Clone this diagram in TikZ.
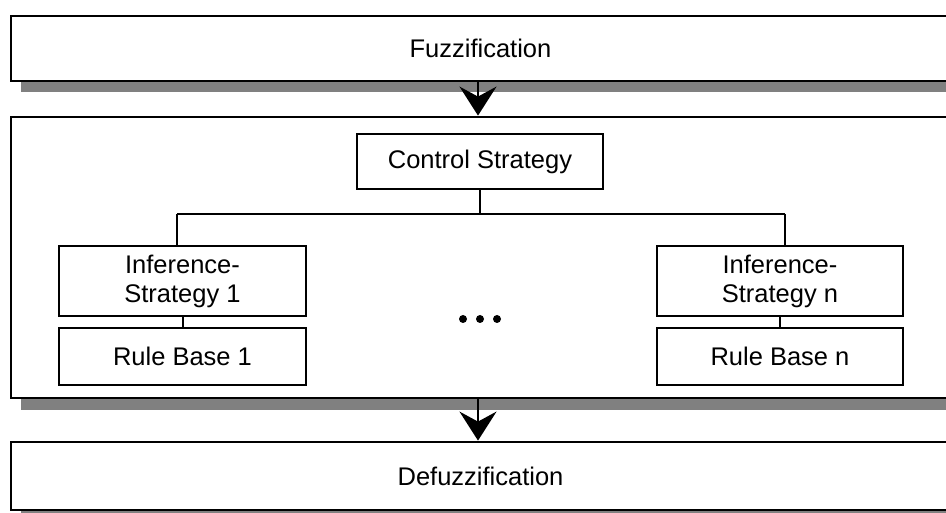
\documentclass[tikz,border=0pt]{standalone}
\usepackage{fontspec}
\setmainfont{Liberation Sans}
\usetikzlibrary{arrows.meta}
\tikzset{
  stage/.style = {draw, line width = 2.8pt, fill = white, inner sep = 0pt, minimum width = 939pt},
  part/.style = {draw, line width = 2.4pt, fill = white, inner sep = 0pt, align = center},
  shade/.style = {fill = black!50},
  link/.style = {line width = 2pt},
  flow/.style = {line width = 2pt, -{Stealth[length = 29pt, width = 37pt, inset = 10pt]}}
}
\begin{document}
\begin{tikzpicture}[x = 1pt, y = -1pt, font = \fontsize{25.5}{29}\selectfont]
\useasboundingbox (0,0) rectangle (946,513);
% shadows
\fill[shade] (21,81) rectangle (960,92);
\fill[shade] (21,399) rectangle (960,410);
\fill[shade] (21,511) rectangle (960,522);
% main stages
\node[stage, minimum height = 65pt] (fuzz) at (480.5,48.5) {Fuzzification};
\node[stage, minimum height = 281pt] (core) at (480.5,257.5) {};
\node[stage, minimum height = 68pt] (defuzz) at (480.5,476) {Defuzzification};
% inside the inference stage
\node[part, minimum width = 246pt, minimum height = 55pt] (ctrl) at (480,161.5) {Control Strategy};
\node[part, minimum width = 247pt, minimum height = 70pt] (inf1) at (182.5,281) {Inference-\\Strategy 1};
\node[part, minimum width = 247pt, minimum height = 57pt] (rb1) at (182.5,356.5) {Rule Base 1};
\node[part, minimum width = 246pt, minimum height = 70pt] (infn) at (780,281) {Inference-\\Strategy n};
\node[part, minimum width = 246pt, minimum height = 57pt] (rbn) at (780,356.5) {Rule Base n};
\coordinate (bl) at (177,214);
\coordinate (br) at (785,214);
\draw[link] (ctrl.south) -- (ctrl.south |- bl);
\draw[link] (bl) -- (br);
\draw[link] (bl) -- (bl |- inf1.north);
\draw[link] (br) -- (br |- infn.north);
\draw[link] (inf1) -- (rb1);
\draw[link] (infn) -- (rbn);
\foreach \x in {463,480,497}
  \fill (\x,319) circle (4pt);
% flow
\draw[flow] (fuzz.south -| 478,0) -- (core.north -| 478,0);
\draw[flow] (core.south -| 478,0) -- (defuzz.north -| 478,0);
\end{tikzpicture}
\end{document}
